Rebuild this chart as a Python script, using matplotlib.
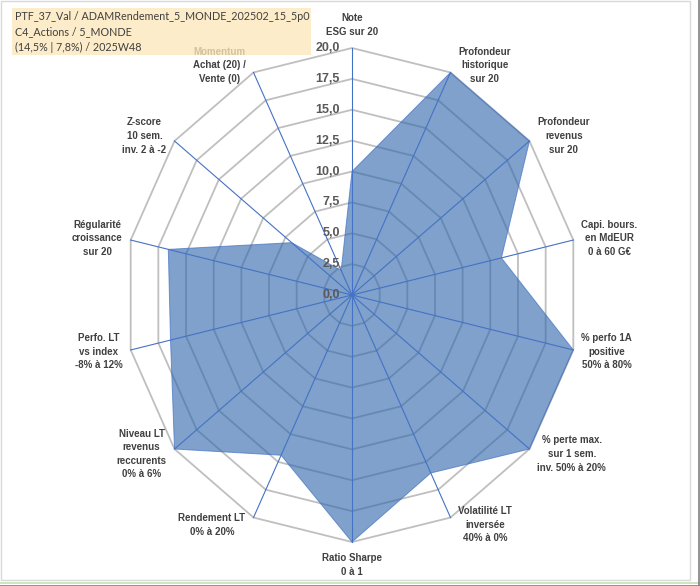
import numpy as np
import matplotlib.pyplot as plt
from matplotlib.patches import Rectangle, Polygon

# ---- data ----
categories = [
    "Note\nESG sur 20",
    "Profondeur\nhistorique\nsur 20",
    "Profondeur\nrevenus\nsur 20",
    "Capi. bours.\nen MdEUR\n0 à 60 G€",
    "% perfo 1A\npositive\n50% à 80%",
    "% perte max.\nsur 1 sem.\ninv. 50% à 20%",
    "Volatilité LT\ninversée\n40% à 0%",
    "Ratio Sharpe\n0 à 1",
    "Rendement LT\n0% à 20%",
    "Niveau LT\nrevenus\nreccurents\n0% à 6%",
    "Perfo. LT\nvs index\n-8% à 12%",
    "Régularité\ncroissance\nsur 20",
    "Z-score\n10 sem.\ninv. 2 à -2",
    "Momentum\nAchat (20) /\nVente (0)",
]
values = [10.0, 20.0, 20.0, 13.5, 20.0, 20.0, 16.0, 20.0, 14.4, 20.0, 16.4, 16.6, 6.8, 2.2]
ticks = [0.0, 2.5, 5.0, 7.5, 10.0, 12.5, 15.0, 17.5, 20.0]
title_lines = [
    "PTF_37_Val / ADAMRendement_5_MONDE_202502_15_5p0",
    "C4_Actions / 5_MONDE",
    "(14,5% | 7,8%) / 2025W48",
]
rmax = 20.0

# ---- layout (pixels) ----
W, H = 700, 586
cx, cy = 352, 295      # centre of the radar
rx, ry = 227, 247      # pixel length of r=20, horizontally / vertically

fig = plt.figure(figsize=(W / 100, H / 100), dpi=100)
ax = fig.add_axes([0, 0, 1, 1])
ax.set_xlim(-cx / rx * rmax, (W - cx) / rx * rmax)
ax.set_ylim(-(H - cy) / ry * rmax, cy / ry * rmax)
ax.axis("off")

n = len(categories)
theta = np.arange(n) * 2 * np.pi / n
s, c = np.sin(theta), np.cos(theta)

# grid rings
for t in ticks[1:]:
    ax.add_patch(Polygon(np.column_stack([t * s, t * c]), closed=True, fill=False,
                         edgecolor="#BFBFBF", lw=1.3, zorder=1))

# spokes
for i in range(n):
    ax.plot([0, rmax * s[i]], [0, rmax * c[i]], color="#4472C4", lw=0.8, zorder=3)

# filled series
v = np.array(values)
ax.add_patch(Polygon(np.column_stack([v * s, v * c]), closed=True,
                     facecolor="#3068AC", alpha=0.62, edgecolor="none", zorder=2))
ax.add_patch(Polygon(np.column_stack([v * s, v * c]), closed=True, fill=False,
                     edgecolor="#4472C4", lw=0.7, alpha=0.7, zorder=2))

# value axis labels
for t in ticks:
    ax.annotate(f"{t:.1f}".replace(".", ","), (0, t), xytext=(-12, 0),
                textcoords="offset pixels", ha="right", va="center",
                fontsize=9, fontweight="bold", color="#595959",
                family="Liberation Sans", zorder=4)

# category labels
for i, lab in enumerate(categories):
    if abs(s[i]) < 0.1:
        up = c[i] > 0
        ax.annotate(lab, (rmax * s[i], rmax * c[i]), xytext=(0, 11 if up else -11),
                    textcoords="offset pixels", ha="center",
                    va="bottom" if up else "top", multialignment="center",
                    fontsize=7, fontweight="bold", color="#404040",
                    family="Liberation Sans", linespacing=1.45, zorder=4)
    else:
        right = s[i] > 0
        ax.annotate(lab, (rmax * s[i], rmax * c[i]),
                    xytext=(8 if right else -8, 8 * c[i]),
                    textcoords="offset pixels", ha="left" if right else "right",
                    va="center", multialignment="center",
                    fontsize=7, fontweight="bold", color="#404040",
                    family="Liberation Sans", linespacing=1.45, zorder=4)

# title box (drawn on top, slightly transparent)
fig.patches.append(Rectangle((12 / W, 1 - 55 / H), 299 / W, 47 / H,
                             transform=fig.transFigure, facecolor="#FCE7BA",
                             alpha=0.78, edgecolor="none", zorder=10))
for k, line in enumerate(title_lines):
    fig.text(15 / W, 1 - (17 + 15 * k) / H, line, ha="left", va="center",
             fontsize=7.75, color="#404040", family="Lato", zorder=11)

# frame around the chart area and sheet edges
fig.patches.append(Rectangle((1 / W, 1 - 580 / H), 689 / W, 579 / H,
                             transform=fig.transFigure, fill=False,
                             edgecolor="#D9D9D9", lw=1.0, zorder=12))
fig.lines.append(plt.Line2D([0, 1], [1 - 582.5 / H] * 2, transform=fig.transFigure,
                            color="#C6E0B4", lw=1.2))
fig.lines.append(plt.Line2D([0, 1], [1 - 585.5 / H] * 2, transform=fig.transFigure,
                            color="#7F7F7F", lw=1.2))
fig.lines.append(plt.Line2D([698.5 / W] * 2, [0, 1], transform=fig.transFigure,
                            color="#7F7F7F", lw=1.2))

fig.savefig("out.png", dpi=100)
